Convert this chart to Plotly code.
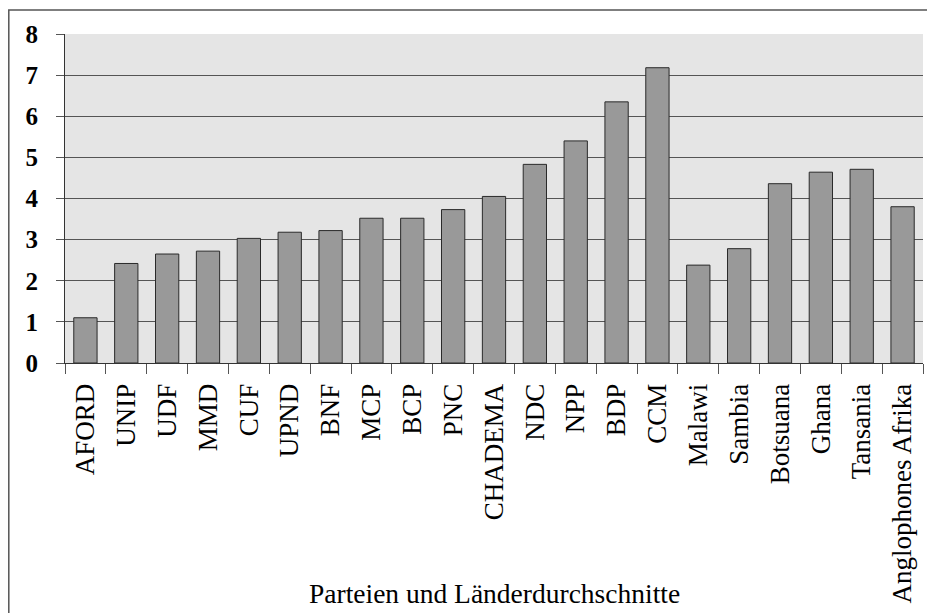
import plotly.graph_objects as go

categories = ["AFORD", "UNIP", "UDF", "MMD", "CUF", "UPND", "BNF", "MCP", "BCP", "PNC",
              "CHADEMA", "NDC", "NPP", "BDP", "CCM", "Malawi", "Sambia", "Botsuana",
              "Ghana", "Tansania", "Anglophones Afrika"]
values = [1.1, 2.42, 2.65, 2.72, 3.03, 3.18, 3.22, 3.52, 3.52, 3.73,
          4.05, 4.83, 5.4, 6.35, 7.18, 2.38, 2.78, 4.36, 4.64, 4.71, 3.8]
y_ticks = [0, 1, 2, 3, 4, 5, 6, 7, 8]
x_title = "Parteien und Länderdurchschnitte"

# page body has an 8px margin, so figure coords = screen coords - 8
W, H = 927, 605
L, R, T, B = 57, 12, 26, 250
pw, ph = W - L - R, H - T - B

fig = go.Figure(go.Bar(
    x=categories, y=values,
    marker=dict(color="#999999", line=dict(color="#2a2a2a", width=1)),
))

fig.update_layout(
    width=W, height=H,
    margin=dict(l=L, r=R, t=T, b=B, autoexpand=False),
    paper_bgcolor="white", plot_bgcolor="#e5e5e5",
    bargap=0.43, showlegend=False,
    font=dict(family="Liberation Serif", color="black"),
)
fig.update_xaxes(
    type="category", tickangle=-90, tickson="boundaries",
    ticks="outside", ticklen=10, tickcolor="#555555", tickwidth=1,
    showline=True, linecolor="#333333", linewidth=1,
    showgrid=False, tickfont=dict(size=27, family="Liberation Serif"),
    ticklabelstandoff=9, automargin=False,
)
fig.update_yaxes(
    range=[0, 8], tickvals=y_ticks, ticks="outside", ticklen=8,
    tickcolor="#555555", tickwidth=1,
    showline=True, linecolor="#333333", linewidth=1,
    showgrid=True, gridcolor="#555555", gridwidth=1.3,
    zeroline=False,
    tickfont=dict(size=25, family="Liberation Serif", weight="bold"),
    ticklabelstandoff=13, automargin=False,
)
fig.add_annotation(
    text=x_title, xref="paper", yref="paper", x=0.5, y=(ph - (593 - 8 - T)) / ph,
    showarrow=False, xanchor="center", yanchor="middle",
    font=dict(size=27.5, family="Liberation Serif"),
)
# outer frame
fig.add_shape(
    type="rect", xref="paper", yref="paper",
    x0=(0.8 - L) / pw, x1=(W + 5 - L) / pw,
    y0=(ph - (H + 5 - T)) / ph, y1=(ph - (2 - T)) / ph,
    line=dict(color="#555555", width=1.5), fillcolor="rgba(0,0,0,0)", layer="below",
)
fig.write_html("out.html")
